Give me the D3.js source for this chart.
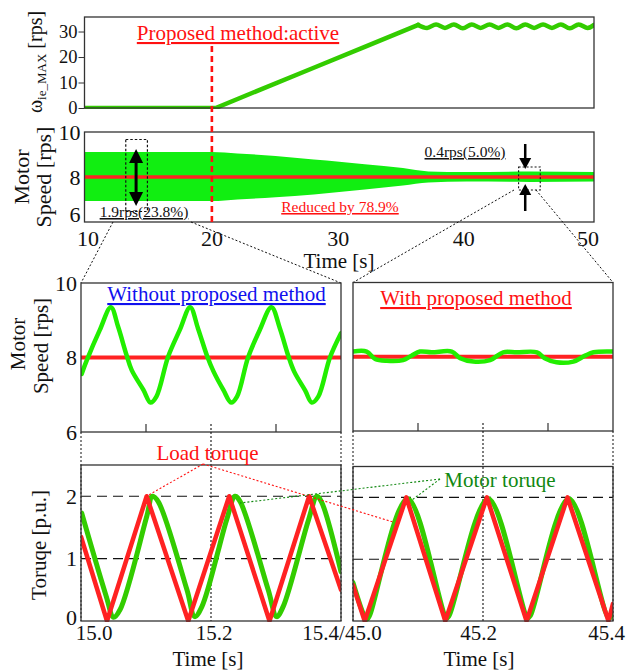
<!DOCTYPE html>
<html><head><meta charset="utf-8">
<script src="https://cdn.jsdelivr.net/npm/d3@7"></script>
<style>body{margin:0;background:#fff}svg{display:block}text{font-family:"Liberation Serif","Times New Roman",serif}</style>
</head><body><svg id="c" width="639" height="672"></svg>
<script>
// ---------------- DATA ----------------
// Top panel: omega_ie_MAX [rps] vs time [s]
const omegaTime  = [10, 20.3, 24, 28, 32, 36.2, 36.9, 37.6, 38.3, 39.0, 39.7, 40.4, 41.1, 41.8, 42.5, 43.2, 43.9, 44.6, 45.3, 46.0, 46.7, 47.4, 48.1, 48.8, 49.5, 50.0];
const omegaValue = [0, 0, 7.6, 15.8, 24.0, 32.6, 31.4, 32.8, 31.4, 32.8, 31.3, 32.8, 31.4, 32.8, 31.4, 32.8, 31.3, 32.8, 31.4, 32.8, 31.4, 32.8, 31.3, 32.8, 31.4, 32.6];
// Second panel: motor speed ripple envelope [rps]
const bandTime  = [10, 20, 22, 25, 28, 30, 32, 35, 37, 40, 45, 50];
const bandUpper = [9.11, 9.11, 9.05, 8.93, 8.78, 8.68, 8.57, 8.4, 8.25, 8.22, 8.24, 8.22];
const bandLower = [6.93, 6.93, 7.0, 7.1, 7.22, 7.33, 7.44, 7.62, 7.76, 7.8, 7.78, 7.8];
const speedRef = 8;
// Middle-left: speed without proposed method (15.0-15.4 s)
const spdLeftTime  = [15.001, 15.009, 15.029, 15.046, 15.057, 15.070, 15.078, 15.096, 15.107, 15.116, 15.134, 15.152, 15.168, 15.180, 15.194, 15.204, 15.219, 15.231, 15.240, 15.257, 15.275, 15.293, 15.306, 15.319, 15.328, 15.345, 15.355, 15.365, 15.383, 15.400];
const spdLeftValue = [7.56, 7.93, 8.74, 9.35, 8.83, 8.07, 7.66, 7.13, 6.79, 6.95, 8.02, 8.74, 9.35, 8.78, 8.04, 7.62, 7.13, 6.79, 6.95, 8.00, 8.74, 9.35, 8.78, 8.04, 7.62, 7.11, 6.79, 6.95, 8.00, 8.65];
// Middle-right: speed with proposed method (45.0-45.4 s)
const spdRightTime  = [45.000, 45.021, 45.034, 45.052, 45.077, 45.090, 45.103, 45.121, 45.152, 45.165, 45.185, 45.211, 45.231, 45.252, 45.283, 45.295, 45.313, 45.339, 45.357, 45.370, 45.400];
const spdRightValue = [8.14, 8.14, 7.94, 7.89, 7.91, 8.03, 8.14, 8.12, 8.14, 7.96, 7.87, 7.91, 8.12, 8.12, 8.12, 7.96, 7.85, 7.87, 8.03, 8.12, 8.14];
// Bottom-left: torque [p.u.]
const loadLeftTime  = [15.0, 15.04, 15.101, 15.165, 15.228, 15.29, 15.351, 15.4];
const loadLeftValue = [1.35, 0, 2, 0, 2, 0, 2, 0.5];
const motorLeftTime  = [15.001, 15.039, 15.050, 15.060, 15.101, 15.110, 15.119, 15.163, 15.175, 15.186, 15.224, 15.237, 15.245, 15.288, 15.301, 15.311, 15.350, 15.363, 15.370, 15.400];
const motorLeftValue = [1.73, 0.39, 0.06, 0.18, 1.67, 2.0, 1.91, 0.5, 0.07, 0.23, 1.62, 2.0, 1.91, 0.5, 0.07, 0.23, 1.62, 2.0, 1.91, 0.79];
// Bottom-right: torque [p.u.]
const loadRightTime  = [45.0, 45.018, 45.082, 45.142, 45.206, 45.267, 45.330, 45.393, 45.4];
const loadRightValue = [0.58, 0, 2, 0, 2, 0, 2, 0, 0.28];
const motorRightTime  = [45.0, 45.019, 45.022, 45.026, 45.084, 45.144, 45.148, 45.208, 45.269, 45.273, 45.332, 45.394, 45.4];
const motorRightValue = [0.62, 0.05, 0.03, 0.1, 1.98, 0.05, 0.09, 1.98, 0.05, 0.09, 1.98, 0.04, 0.14];
// Tick values / labels
const omegaTicks = [0, 10, 20, 30];
const speedTicks = [6, 8, 10];
const torqueTicks = [0, 1, 2];
const timeTicksTop = [10, 20, 30, 40, 50];
const timeTicksLeft = [15.0, 15.2, 15.4];
const timeLabelsLeft = ["15.0", "15.2", "15.4/45.0"];
const timeTicksRight = [45.2, 45.4];
const timeLabelsRight = ["45.2", "45.4"];

// ---------------- LAYOUT ----------------
const svg = d3.select("#c");
const P1 = {x0: 84.5, x1: 594, y0: 17, y1: 108};
const P2 = {x0: 84.5, x1: 594, y0: 132, y1: 222};
const P3 = {x0: 81, x1: 341, y0: 283, y1: 432};
const P4 = {x0: 353, x1: 613, y0: 282.5, y1: 431};
const P5 = {x0: 81, x1: 341, y0: 465, y1: 621};
const P6 = {x0: 353, x1: 613, y0: 466.5, y1: 621};

const GREEN_BAND = "#11ee11", GREEN_LINE = "#33cc00", GREEN_SPD = "#22ee00", RED = "#ff2222";
const defs = svg.append("defs");
let clipN = 0;
function mk(p, xd, yd) {
  const x = d3.scaleLinear().domain(xd).range([p.x0, p.x1]);
  const y = d3.scaleLinear().domain(yd).range([p.y1, p.y0]);
  const id = "clip" + (clipN++);
  defs.append("clipPath").attr("id", id).append("rect")
    .attr("x", p.x0).attr("y", p.y0 - 1).attr("width", p.x1 - p.x0).attr("height", p.y1 - p.y0 + 2);
  const g = svg.append("g").attr("clip-path", `url(#${id})`);
  return {x, y, p, g};
}
function box(p) {
  svg.append("rect").attr("x", p.x0).attr("y", p.y0).attr("width", p.x1 - p.x0).attr("height", p.y1 - p.y0)
    .attr("fill", "none").attr("stroke", "#333").attr("stroke-width", 1.3);
}
function yAxis(P, ticks, size, fs, lastShift) {
  const ax = d3.axisLeft(P.y).tickValues(ticks).tickSize(size).tickPadding(size > 0 ? 1 : 4).tickFormat(d3.format("d"));
  const g = svg.append("g").attr("transform", `translate(${P.p.x0},0)`).call(ax);
  g.select(".domain").remove();
  g.selectAll("line").attr("stroke", "#333");
  g.selectAll("text").attr("font-size", fs).attr("fill", "#111");
  if (lastShift) g.selectAll("text").filter(d => d === ticks[0]).attr("y", lastShift);
}
function line(P, xs, ys, color, w, curve) {
  const pts = xs.map((t, i) => [t, ys[i]]);
  P.g.append("path").datum(pts)
    .attr("d", d3.line().x(d => P.x(d[0])).y(d => P.y(d[1])).curve(curve || d3.curveLinear))
    .attr("fill", "none").attr("stroke", color).attr("stroke-width", w)
    .attr("stroke-linejoin", "round").attr("stroke-linecap", "round");
}
function txt(x, y, s, fs, opts) {
  opts = opts || {};
  const t = svg.append("text").attr("x", x).attr("y", y).attr("font-size", fs)
    .attr("fill", opts.fill || "#111").attr("text-anchor", opts.anchor || "middle").text(s);
  if (opts.rot) t.attr("transform", `rotate(-90,${x},${y})`);
  if (opts.ul) t.attr("text-decoration", "underline");
  return t;
}
function dotted(x1, y1, x2, y2, color, w, dash) {
  svg.append("line").attr("x1", x1).attr("y1", y1).attr("x2", x2).attr("y2", y2)
    .attr("stroke", color || "#111").attr("stroke-width", w || 1).attr("stroke-dasharray", dash || "2,2");
}

// ---------------- PANEL 1 ----------------
const A = mk(P1, [10, 50], [0, 35.7]);
line(A, omegaTime.slice(0, 6), omegaValue.slice(0, 6), GREEN_LINE, 4.5);
line(A, omegaTime.slice(5), omegaValue.slice(5), GREEN_LINE, 4.5, d3.curveCatmullRom.alpha(0.5));
box(P1);
yAxis(A, omegaTicks, 6, 18.5);

// ---------------- PANEL 2 ----------------
const B = mk(P2, [10, 50], [6, 10]);
const band = bandTime.map((t, i) => [t, bandUpper[i], bandLower[i]]);
B.g.append("path").datum(band)
  .attr("d", d3.area().x(d => B.x(d[0])).y0(d => B.y(d[2])).y1(d => B.y(d[1])).curve(d3.curveMonotoneX))
  .attr("fill", GREEN_BAND);
line(B, [10, 50], [speedRef, speedRef], RED, 3.5);
box(P2);
yAxis(B, speedTicks, 0, 22, -8);
timeTicksTop.forEach((t, i) => txt(B.x(t) + [3.5, 0, -1, -3, -6][i], 246, String(t), 22));
txt(339, 268, "Time [s]", 21);

// red dashed vertical at 20 s
svg.append("line").attr("x1", B.x(20)).attr("x2", B.x(20)).attr("y1", 46).attr("y2", P2.y1)
  .attr("stroke", "#ff1111").attr("stroke-width", 2.6).attr("stroke-dasharray", "6,4");
txt(238, 40, "Proposed method:active", 21, {fill: "#ff1111", ul: true});

// annotations panel 2
svg.append("rect").attr("x", B.x(13.24)).attr("y", 139.5).attr("width", B.x(14.94) - B.x(13.24)).attr("height", 72)
  .attr("fill", "none").attr("stroke", "#111").attr("stroke-width", 1.2).attr("stroke-dasharray", "2.5,2");
(function () {
  const ax = B.x(14.05);
  svg.append("line").attr("x1", ax).attr("x2", ax).attr("y1", 160).attr("y2", 195).attr("stroke", "#000").attr("stroke-width", 3);
  svg.append("path").attr("d", `M${ax},149 L${ax - 7},163 L${ax + 7},163 Z M${ax},206 L${ax - 7},192 L${ax + 7},192 Z`).attr("fill", "#000");
  const bx = B.x(44.6);
  svg.append("line").attr("x1", bx).attr("x2", bx).attr("y1", 144).attr("y2", 160).attr("stroke", "#000").attr("stroke-width", 2.5);
  svg.append("path").attr("d", `M${bx},169 L${bx - 6},158 L${bx + 6},158 Z`).attr("fill", "#000");
  svg.append("line").attr("x1", bx).attr("x2", bx).attr("y1", 194).attr("y2", 211).attr("stroke", "#000").attr("stroke-width", 2.5);
  svg.append("path").attr("d", `M${bx},184 L${bx - 6},195 L${bx + 6},195 Z`).attr("fill", "#000");
})();
svg.append("rect").attr("x", B.x(44.08)).attr("y", 167).attr("width", B.x(45.78) - B.x(44.08)).attr("height", 23)
  .attr("fill", "none").attr("stroke", "#111").attr("stroke-width", 1.1).attr("stroke-dasharray", "2,2");
txt(144, 217, "1.9rps(23.8%)", 15.5, {ul: true});
txt(465, 157, "0.4rps(5.0%)", 15.5, {ul: true});
txt(340, 212, "Reduced by 78.9%", 15.5, {fill: "#ff1111", ul: true});

// zoom connector lines
dotted(113, 222, P3.x0, P3.y0);
dotted(191, 222, P3.x1, P3.y0);
dotted(514, 190, P4.x0, P4.y0);
dotted(536, 190, P4.x1, P4.y0);

// ---------------- PANEL 3 ----------------
const C = mk(P3, [15.0, 15.4], [6, 10]);
line(C, [15.0, 15.4], [speedRef, speedRef], RED, 4.2);
line(C, spdLeftTime, spdLeftValue, GREEN_SPD, 4.5, d3.curveCatmullRom.alpha(0.5));
box(P3);
yAxis(C, speedTicks, 0, 22);
txt(216.5, 301, "Without proposed method", 21, {fill: "#1111ee", ul: true});

// ---------------- PANEL 4 ----------------
const D = mk(P4, [45.0, 45.4], [6, 10]);
line(D, [45.0, 45.4], [speedRef, speedRef], "#222", 1.2);
line(D, [45.0, 45.4], [speedRef, speedRef], RED, 4.2);
line(D, spdRightTime, spdRightValue, GREEN_SPD, 4.5, d3.curveCatmullRom.alpha(0.5));
box(P4);
txt(476, 305, "With proposed method", 21, {fill: "#ff1111", ul: true});

// ticks on middle panels
[[C, [15.1, 15.3], 15.2, P5], [D, [45.1, 45.3], 45.2, P6]].forEach(([S, solid, mid, Pb]) => {
  solid.forEach(t => svg.append("line").attr("x1", S.x(t)).attr("x2", S.x(t)).attr("y1", S.p.y1).attr("y2", S.p.y1 - 8).attr("stroke", "#333").attr("stroke-width", 1.2));
  dotted(S.x(mid), S.p.y1 - 8, S.x(mid), Pb.y1, "#111", 1.1, "2,2");
  dotted(S.p.x0, S.p.y1, S.p.x0, Pb.y1, "#111", 1, "2,2");
  dotted(S.p.x1, S.p.y1, S.p.x1, Pb.y1, "#111", 1, "2,2");
});

// ---------------- PANEL 5 ----------------
const E = mk(P5, [15.0, 15.4], [0, 2.5]);
[1, 2].forEach(v => E.g.append("line").attr("x1", P5.x0).attr("x2", P5.x1).attr("y1", E.y(v)).attr("y2", E.y(v))
  .attr("stroke", "#111").attr("stroke-width", 1.1).attr("stroke-dasharray", "10,6"));
line(E, motorLeftTime, motorLeftValue, GREEN_LINE, 5, d3.curveCatmullRom.alpha(0.5));
line(E, loadLeftTime, loadLeftValue, RED, 4.5);
box(P5);
yAxis(E, torqueTicks, 0, 22, -4);

// ---------------- PANEL 6 ----------------
const F = mk(P6, [45.0, 45.4], [0, 2.5]);
[1, 2].forEach(v => F.g.append("line").attr("x1", P6.x0).attr("x2", P6.x1).attr("y1", F.y(v)).attr("y2", F.y(v))
  .attr("stroke", "#111").attr("stroke-width", 1.1).attr("stroke-dasharray", "10,6"));
line(F, motorRightTime, motorRightValue, GREEN_LINE, 5, d3.curveCatmullRom.alpha(0.5));
line(F, loadRightTime, loadRightValue, RED, 4.5);
box(P6);

// time tick labels
timeTicksLeft.forEach((t, i) => txt(E.x(t) + [13, 3, 1][i], 640, timeLabelsLeft[i], 21));
timeTicksRight.forEach((t, i) => txt(F.x(t) + [-4.5, -6.5][i], 640, timeLabelsRight[i], 21));
txt(208, 666, "Time [s]", 21);
txt(479, 666, "Time [s]", 21);

// torque annotations
txt(207.5, 460, "Load toruqe", 21, {fill: "#ff1111"});
dotted(203, 464, E.x(15.101), E.y(2), "#ff1111", 1.1, "2,2");
dotted(203, 464, 393, 522, "#ff1111", 1.1, "2,2");
txt(500, 487, "Motor toruqe", 21, {fill: "#118811"});
dotted(440, 479, 240, 503, "#118811", 1.1, "2,2");
dotted(440, 479, 412, 500, "#118811", 1.1, "2,2");

// ---------------- AXIS TITLES ----------------
(function () {
  const t = svg.append("text").attr("x", 42).attr("y", 62).attr("font-size", 20).attr("fill", "#111")
    .attr("text-anchor", "middle").attr("transform", "rotate(-90,42,62)");
  t.append("tspan").text("ω");
  t.append("tspan").attr("font-size", 13).attr("dy", 4).text("ie_MAX");
  t.append("tspan").attr("dy", -4).text(" [rps]");
})();
txt(29, 177, "Motor", 22, {rot: true});
txt(51, 177, "Speed [rps]", 22, {rot: true});
txt(25, 344, "Motor", 21, {rot: true});
txt(48, 346, "Speed [rps]", 21, {rot: true});
txt(46, 545, "Toruqe [p.u.]", 21, {rot: true});
</script></body></html>
